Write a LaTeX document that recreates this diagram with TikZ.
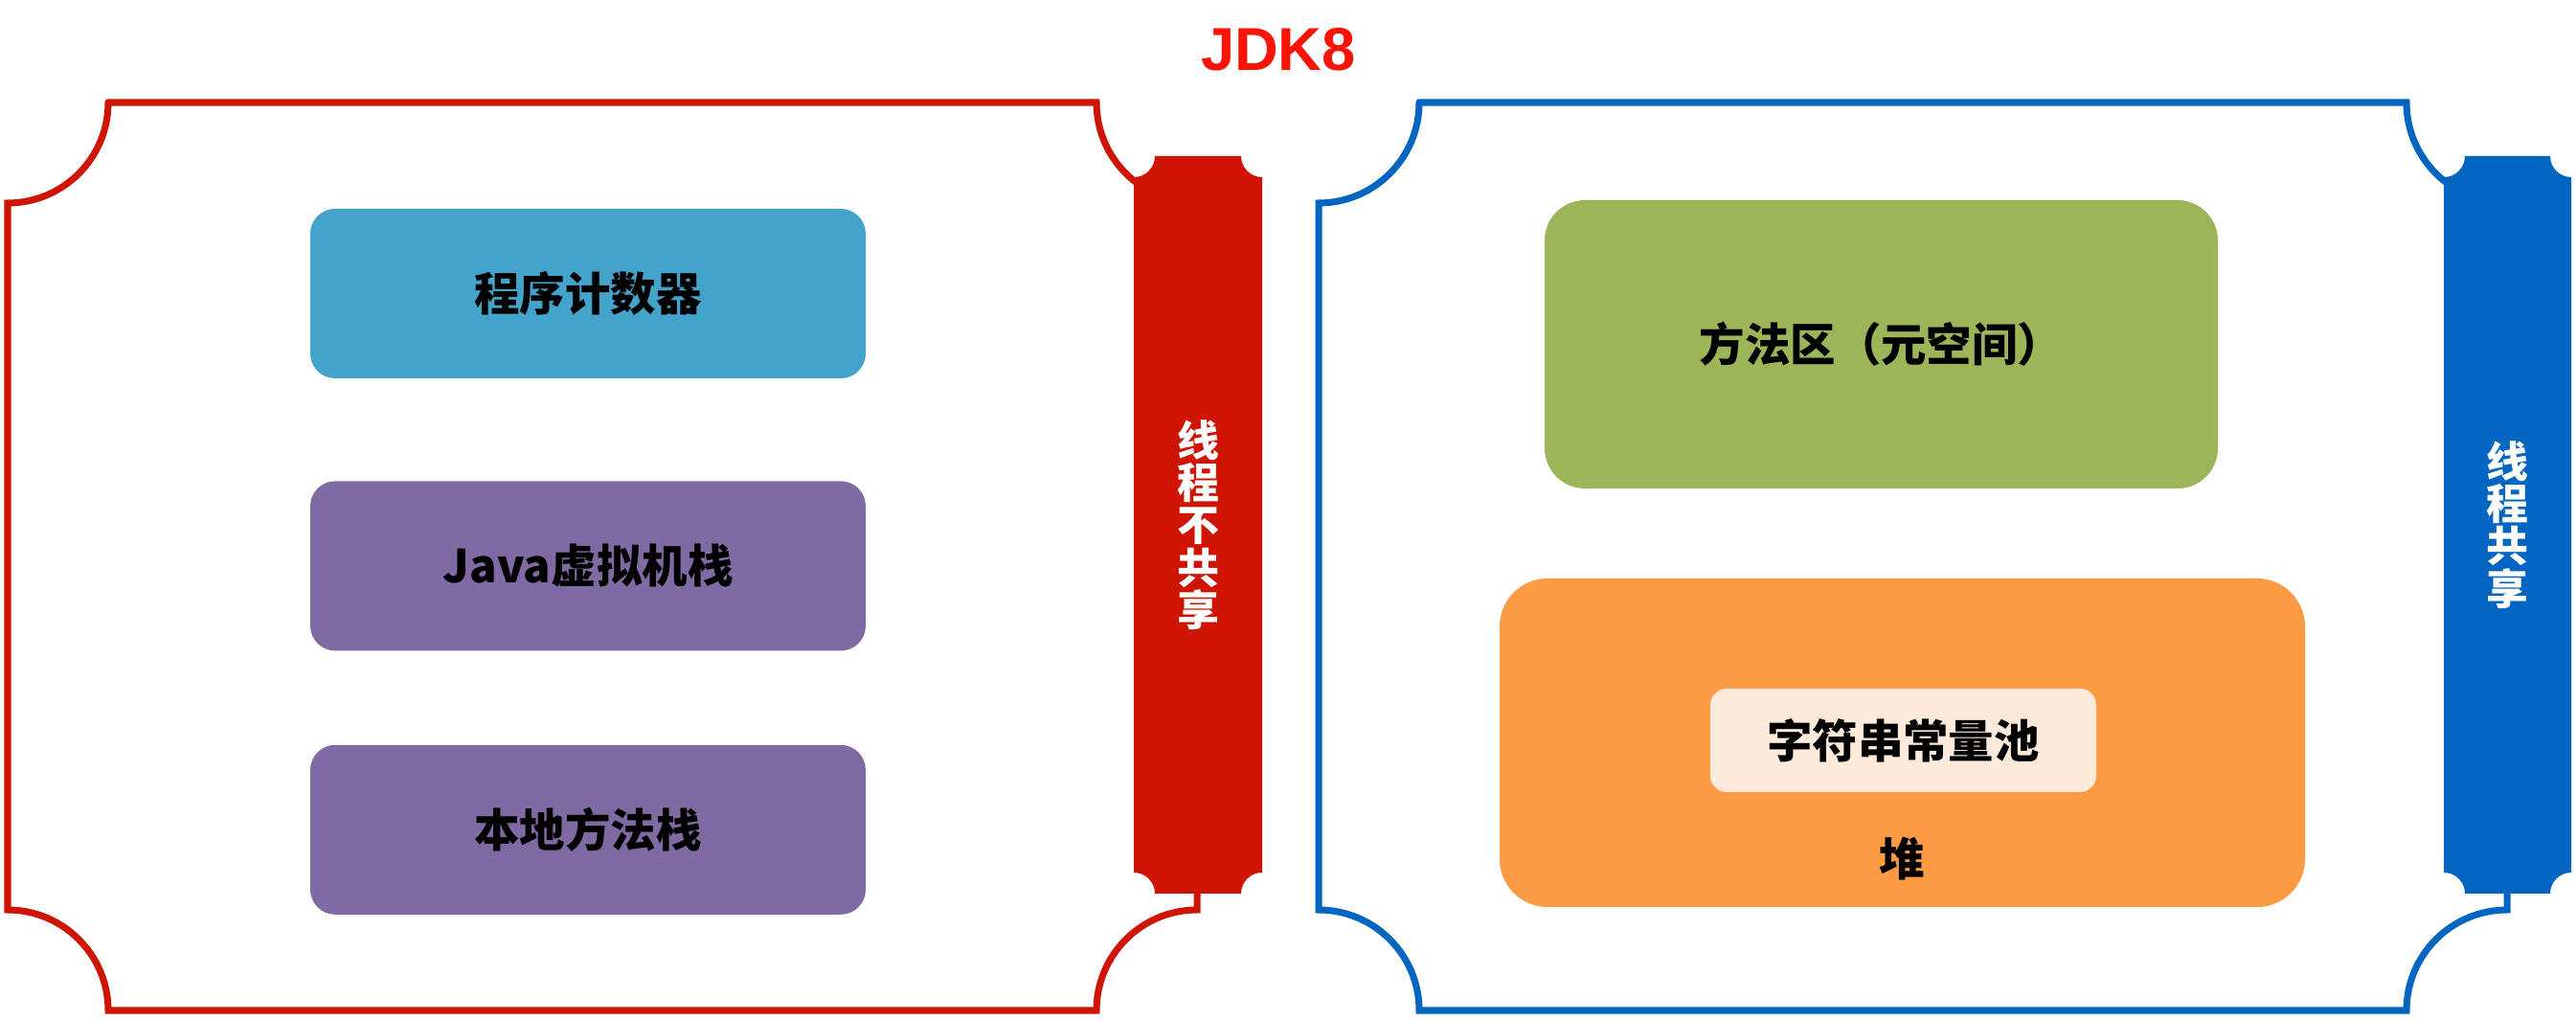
\documentclass[tikz,border=0pt]{standalone}
\usepackage{fontspec}
\setmainfont{Noto Sans CJK SC}
\newfontfamily\titlefont{Liberation Sans}
\usepackage{tikz}
\usetikzlibrary{positioning}
\definecolor{framered}{RGB}{208,20,4}
\definecolor{frameblue}{RGB}{0,102,194}
\definecolor{titlered}{RGB}{250,20,5}
\definecolor{pcblue}{RGB}{67,163,202}
\definecolor{stackpurple}{RGB}{128,106,164}
\definecolor{methodgreen}{RGB}{155,181,88}
\definecolor{heaporange}{RGB}{253,155,68}
\definecolor{poolpeach}{RGB}{253,234,218}
% frame with concave quarter-circle corners: x1,y1,x2,y2,radius
\newcommand{\notchpath}[5]{(#1+#5,#4) -- (#3-#5,#4) arc[start angle=180,end angle=270,radius=#5]
  -- (#3,#2+#5) arc[start angle=90,end angle=180,radius=#5]
  -- (#1+#5,#2) arc[start angle=0,end angle=90,radius=#5]
  -- (#1,#4-#5) arc[start angle=270,end angle=360,radius=#5] -- cycle}

\begin{document}
\begin{tikzpicture}[
  node distance=1cm,
  boxtext/.style={font=\fontsize{13.5}{16}\selectfont\bfseries,text=black},
  stackbox/.style={boxtext,rounded corners=0.26cm,minimum width=5.8cm,minimum height=1.77cm,align=center},
  bartext/.style={font=\fontsize{12.5}{12.6}\selectfont\bfseries,text=white,align=center}
]
\useasboundingbox (0,0) rectangle (26.9,10.65);
\node[font=\titlefont\bfseries\fontsize{18}{20}\selectfont,text=titlered] (title) at (13.35,10.13) {JDK8};

\draw[framered,line width=2pt] \notchpath{0.08}{0.10}{12.50}{9.58}{1.05};
\fill[framered] \notchpath{11.84}{1.32}{13.18}{9.02}{0.22};
\node[bartext] (notshared) at (12.51,5.17) {线\\程\\不\\共\\享};

\node[stackbox,fill=pcblue] (pc) at (6.14,7.585) {程序计数器};
\node[stackbox,fill=stackpurple,below=1.06cm of pc] (jvmstack) {Java虚拟机栈};
\node[stackbox,fill=stackpurple,below=0.97cm of jvmstack] (nativestack) {本地方法栈};

\draw[frameblue,line width=2pt] \notchpath{13.77}{0.10}{26.18}{9.58}{1.05};
\fill[frameblue] \notchpath{25.52}{1.32}{26.85}{9.02}{0.22};
\node[bartext] (shared) at (26.185,5.17) {线\\程\\共\\享};

\node[boxtext,fill=methodgreen,rounded corners=0.42cm,minimum width=7.03cm,minimum height=3.01cm] (method) at (19.645,7.055) {方法区（元空间）};
\node[fill=heaporange,rounded corners=0.5cm,minimum width=8.41cm,minimum height=3.43cm] (heap) at (19.865,2.895) {};
\node[boxtext,fill=poolpeach,rounded corners=0.17cm,minimum width=4.03cm,minimum height=1.08cm] (pool) at (19.875,2.92) {字符串常量池};
\node[boxtext] (heaplbl) at ([yshift=0.51cm]heap.south) {堆};
\end{tikzpicture}
\end{document}
